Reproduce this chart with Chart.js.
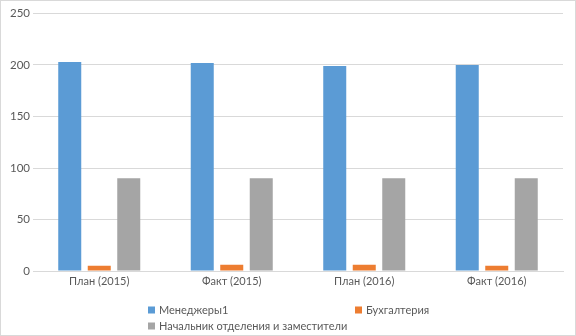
<!DOCTYPE html>
<html>
<head>
<meta charset="utf-8">
<script src="https://cdn.jsdelivr.net/npm/chart.js@4/dist/chart.umd.min.js"></script>
<style>
  html, body { margin: 0; padding: 0; background: #ffffff; }
  #wrap { width: 576px; height: 336px; position: relative; }
</style>
</head>
<body>
<div id="wrap"><canvas id="c" width="576" height="336"></canvas></div>
<script>
// Categories and series values
const categories = ['План (2015)', 'Факт (2015)', 'План (2016)', 'Факт (2016)'];
const seriesNames = ['Менеджеры1', 'Бухгалтерия', 'Начальник отделения и заместители'];
const managers = [203, 202, 199, 200];
const accounting = [5, 6, 6, 5];
const heads = [90, 90, 90, 90];
const yTicks = [0, 50, 100, 150, 200, 250];

const colors = ['#5b9bd5', '#ed7d31', '#a5a5a5'];
const FONT = 'Lato, "Liberation Sans", sans-serif';
const TEXT = '#595959';

// White background and thin frame around the chart
const framePlugin = {
  id: 'frame',
  beforeDraw(chart) {
    const ctx = chart.ctx;
    ctx.save();
    ctx.fillStyle = '#ffffff';
    ctx.fillRect(0, 0, chart.width, chart.height);
    ctx.strokeStyle = '#d9d9d9';
    ctx.lineWidth = 1;
    ctx.strokeRect(0.5, 0.5, chart.width - 1, chart.height - 1);
    ctx.restore();
  }
};

// Legend laid out in two columns below the axis
const columnLegend = {
  id: 'columnLegend',
  afterDraw(chart) {
    const ctx = chart.ctx;
    const slots = [
      { x: 148, y: 310 },
      { x: 355, y: 310 },
      { x: 148, y: 326 }
    ];
    ctx.save();
    ctx.font = '11px ' + FONT;
    ctx.textBaseline = 'middle';
    ctx.textAlign = 'left';
    chart.data.datasets.forEach((ds, i) => {
      const s = slots[i];
      ctx.fillStyle = ds.backgroundColor;
      ctx.fillRect(s.x, s.y - 3.5, 7, 7);
      ctx.fillStyle = TEXT;
      ctx.fillText(ds.label, s.x + 11, s.y);
    });
    ctx.restore();
  }
};

new Chart(document.getElementById('c'), {
  type: 'bar',
  data: {
    labels: categories,
    datasets: [
      { label: seriesNames[0], data: managers, backgroundColor: colors[0] },
      { label: seriesNames[1], data: accounting, backgroundColor: colors[1] },
      { label: seriesNames[2], data: heads, backgroundColor: colors[2] }
    ]
  },
  options: {
    responsive: false,
    animation: false,
    devicePixelRatio: 1,
    layout: { padding: { left: 0, right: 13, top: 13.5, bottom: 40 } },
    datasets: {
      bar: { categoryPercentage: 0.668, barPercentage: 0.78 }
    },
    plugins: {
      legend: { display: false },
      tooltip: { enabled: false }
    },
    scales: {
      x: {
        grid: { display: false, drawTicks: false },
        border: { display: true, color: '#d9d9d9', width: 1 },
        ticks: { color: TEXT, font: { family: FONT, size: 11 }, padding: 4, maxRotation: 0 },
        afterFit(scale) { scale.height = 25; }
      },
      y: {
        min: 0,
        max: 250,
        afterBuildTicks(scale) { scale.ticks = yTicks.map(v => ({ value: v })); },
        grid: { color: '#d9d9d9', lineWidth: 1, drawTicks: false },
        border: { display: false },
        ticks: { color: TEXT, font: { family: FONT, size: 11.5 }, padding: 3 },
        afterFit(scale) { scale.width = 33; }
      }
    }
  },
  plugins: [framePlugin, columnLegend]
});
</script>
</body>
</html>
